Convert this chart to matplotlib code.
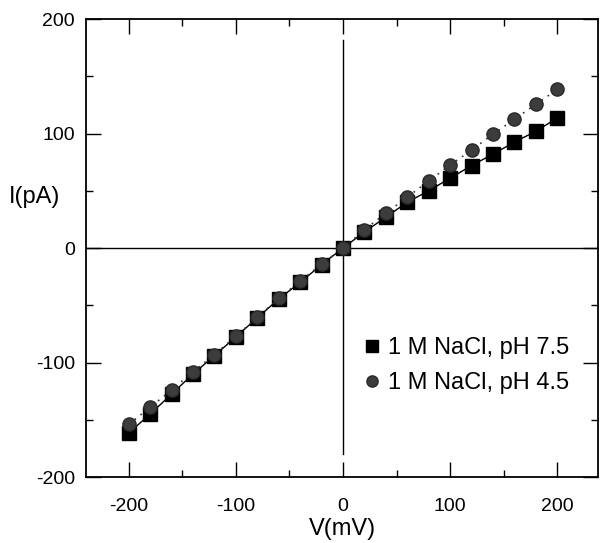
import numpy as np
import matplotlib.pyplot as plt
from matplotlib.ticker import MultipleLocator

plt.rcParams['font.family'] = ['Liberation Sans', 'DejaVu Sans']
plt.rcParams['axes.unicode_minus'] = False

# Voltage steps (mV)
voltage = [-200, -180, -160, -140, -120, -100, -80, -60, -40, -20,
           0, 20, 40, 60, 80, 100, 120, 140, 160, 180, 200]

# Current (pA), 1 M NaCl at pH 7.5
current_ph75 = [-161.5, -145, -127.5, -110, -94, -77.5, -61, -44.5, -30, -14.5,
                0, 14, 27, 40, 50, 61, 72, 82, 92.5, 102, 113.5]

# Current (pA), 1 M NaCl at pH 4.5
current_ph45 = [-154, -139, -124, -108, -93, -77, -60.5, -44, -29, -14,
                0, 16, 30.5, 44.5, 58.5, 72.5, 85.5, 99.5, 112.5, 125.5, 138.5]

fig = plt.figure(figsize=(6.01, 5.43), dpi=100)
ax = fig.add_axes([0.143, 0.1215, 0.852, 0.8435])

# Axis cross lines
ax.axhline(0, color='black', linewidth=1.0, zorder=1)
ax.plot([0, 0], [-180, 182], color='black', linewidth=1.0, zorder=1)

ax.plot(voltage, current_ph75, color='black', linestyle='-', linewidth=1.0,
        marker='s', markersize=10.5, markerfacecolor='black',
        markeredgecolor='black', label='1 M NaCl, pH 7.5', zorder=3)
ax.plot(voltage, current_ph45, color='#333333', linestyle=(0, (1, 3.5)), linewidth=1.2,
        marker='o', markersize=9.5, markerfacecolor='#3c3c3c',
        markeredgecolor='#2a2a2a', label='1 M NaCl, pH 4.5', zorder=4)

ax.set_xlim(-240, 238)
ax.set_ylim(-200, 200)
ax.xaxis.set_major_locator(MultipleLocator(100))
ax.xaxis.set_minor_locator(MultipleLocator(50))
ax.yaxis.set_major_locator(MultipleLocator(100))
ax.yaxis.set_minor_locator(MultipleLocator(50))

ax.tick_params(which='both', direction='in', top=True, right=True,
               labelsize=14, width=1.0)
ax.tick_params(which='major', length=11, pad=15)
ax.tick_params(which='minor', length=5)
ax.tick_params(axis='y', pad=8)

for spine in ax.spines.values():
    spine.set_linewidth(1.3)

ax.set_xlabel('V(mV)', fontsize=17, labelpad=2)
ax.set_ylabel('I(pA)', fontsize=17, rotation=0, va='center', labelpad=0)
ax.yaxis.set_label_coords(-0.1, 0.611)

leg = ax.legend(loc='lower right', bbox_to_anchor=(0.985, 0.135), frameon=False,
                fontsize=17, handlelength=0.6, handletextpad=0.35,
                labelspacing=0.55, markerscale=0.85)
for line in leg.get_lines():
    line.set_linestyle('')

fig.savefig('out.png', dpi=100)
